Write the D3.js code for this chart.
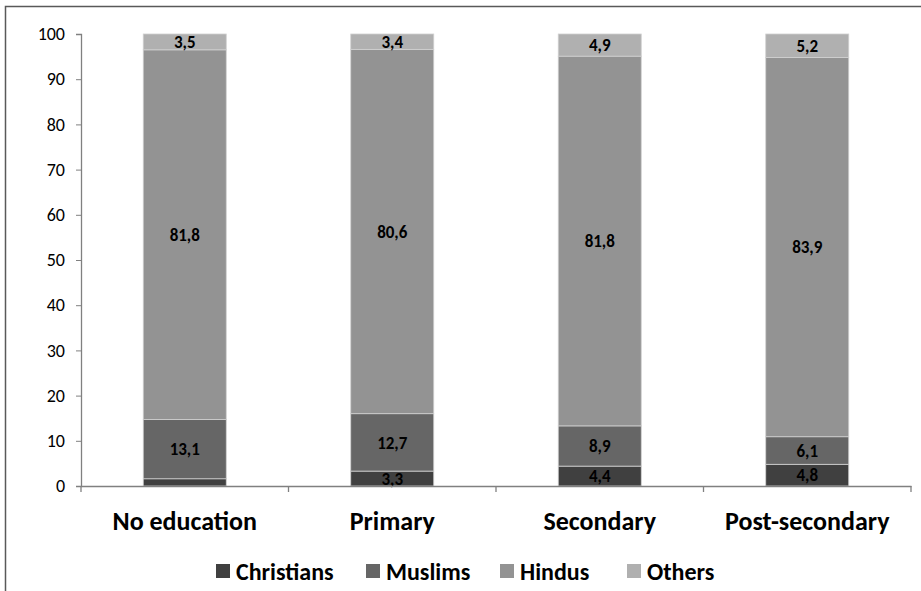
<!DOCTYPE html>
<html>
<head>
<meta charset="utf-8">
<script src="https://cdn.jsdelivr.net/npm/d3@7"></script>
<style>
  body { margin: 0; background: #fff; }
  svg { display: block; font-family: Carlito, Calibri, Lato, "Open Sans", sans-serif; }
</style>
</head>
<body>
<div id="chart"></div>
<script>
var categories = ["No education", "Primary", "Secondary", "Post-secondary"];
var seriesNames = ["Christians", "Muslims", "Hindus", "Others"];
var christians = [1.6, 3.3, 4.4, 4.8];
var muslims = [13.1, 12.7, 8.9, 6.1];
var hindus = [81.8, 80.6, 81.8, 83.9];
var others = [3.5, 3.4, 4.9, 5.2];
// the small Christian segment in the first bar has no label
var christianLabels = ["", "3,3", "4,4", "4,8"];
var yTicks = [0, 10, 20, 30, 40, 50, 60, 70, 80, 90, 100];

var colors = ["#404040", "#666666", "#939393", "#b0b0b0"];

var W = 921, H = 591;
var margin = {top: 34, left: 81};
var width = 911 - margin.left,
    height = 486 - margin.top;

var svg = d3.select("#chart").append("svg")
    .attr("width", W)
    .attr("height", H);

// outer chart border
svg.append("rect")
    .attr("x", 5.5).attr("y", 6.5)
    .attr("width", 1000).attr("height", 1000)
    .attr("fill", "none")
    .attr("stroke", "#595959")
    .attr("stroke-width", 1.5);

var g = svg.append("g")
    .attr("transform", "translate(" + margin.left + "," + margin.top + ")");

var table = categories.map(function(c, i) {
  return {cat: c, Christians: christians[i], Muslims: muslims[i], Hindus: hindus[i], Others: others[i]};
});

var x = d3.scaleBand()
    .domain(categories)
    .range([0, width])
    .paddingInner(0.6)
    .paddingOuter(0.3);

var xOuter = d3.scaleBand().domain(categories).range([0, width]);

var y = d3.scaleLinear()
    .domain([0, 100])
    .range([height, 0]);

var layers = d3.stack().keys(seriesNames)(table);

// Bars
var layer = g.selectAll(".layer")
  .data(layers)
  .enter().append("g")
    .attr("class", "layer")
    .attr("fill", function(d, i) { return colors[i]; });

layer.selectAll("rect")
  .data(function(d) { return d; })
  .enter().append("rect")
    .attr("x", function(d) { return x(d.data.cat); })
    .attr("y", function(d) { return y(d[1]); })
    .attr("width", x.bandwidth())
    .attr("height", function(d) { return y(d[0]) - y(d[1]); })
    .attr("stroke", "#d0d0d0")
    .attr("stroke-width", 0.8);

// data labels
layers.forEach(function(l, si) {
  l.forEach(function(d, ci) {
    var txt = String(d.data[seriesNames[si]]).replace(".", ",");
    if (si === 0) txt = christianLabels[ci];
    if (!txt) return;
    var cy = (y(d[0]) + y(d[1])) / 2;
    g.append("text")
      .attr("x", x(d.data.cat) + x.bandwidth() / 2)
      .attr("y", cy)
      .attr("dy", "0.36em")
      .attr("text-anchor", "middle")
      .attr("font-size", "17px")
      .attr("font-weight", "bold")
      .attr("fill", "#000")
      .text(txt);
  });
});

// Y axis
var yAxis = g.append("g")
    .call(d3.axisLeft(y).tickValues(yTicks).tickSize(5).tickPadding(11));
yAxis.select(".domain").attr("stroke", "#808080").attr("stroke-width", 1.3);
yAxis.selectAll(".tick line").attr("stroke", "#808080");
yAxis.selectAll(".tick text")
    .attr("font-size", "18px")
    .attr("font-family", "Carlito, Calibri, Lato, 'Open Sans', sans-serif")
    .attr("fill", "#000");

// X axis
var xAxis = g.append("g")
    .attr("transform", "translate(0," + height + ")")
    .call(d3.axisBottom(xOuter).tickSize(0));
xAxis.select(".domain").attr("stroke", "#808080").attr("stroke-width", 1.5);
xAxis.selectAll(".tick text")
    .attr("y", 44)
    .attr("dy", 0)
    .attr("font-size", "26px")
    .attr("font-weight", "bold")
    .attr("font-family", "Carlito, Calibri, Lato, 'Open Sans', sans-serif")
    .attr("fill", "#000");

// category boundary ticks
var bounds = categories.map(function(c) { return xOuter(c); }).concat([width]);
xAxis.selectAll(".bound")
  .data(bounds)
  .enter().append("line")
    .attr("x1", function(d) { return d; })
    .attr("x2", function(d) { return d; })
    .attr("y1", 0).attr("y2", 6)
    .attr("stroke", "#808080")
    .attr("stroke-width", 1.3);

// Legend
var legendX = [216, 366, 500, 627];
var legend = svg.append("g").attr("transform", "translate(0,571)");
var item = legend.selectAll(".item")
  .data(seriesNames)
  .enter().append("g")
    .attr("transform", function(d, i) { return "translate(" + legendX[i] + ",0)"; });
item.append("rect")
    .attr("x", 0).attr("y", -7)
    .attr("width", 14).attr("height", 14)
    .attr("fill", function(d, i) { return colors[i]; });
item.append("text")
    .attr("x", 20)
    .attr("y", 9)
    .attr("font-size", "24px")
    .attr("font-weight", "bold")
    .attr("fill", "#000")
    .text(function(d) { return d; });
</script>
</body>
</html>
